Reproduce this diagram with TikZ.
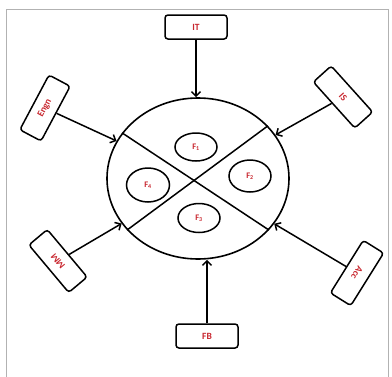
\documentclass[tikz,border=0pt]{standalone}
\usepackage{fontspec}
\setmainfont{Carlito}
\usetikzlibrary{shapes.geometric,arrows.meta}
\definecolor{labred}{RGB}{200,38,46}
\begin{document}
\begin{tikzpicture}[x=1pt,y=-1pt,>={Straight Barb[length=4.5pt,width=9pt]},
        dept/.style={draw,line width=1.5pt,rounded corners=3pt,minimum width=62pt,
            minimum height=24pt,inner sep=0pt,text=labred,font=\fontsize{9.5}{10}\selectfont\bfseries},
        fund/.style={draw,ellipse,line width=1.5pt,minimum width=42pt,minimum height=30pt,
            inner sep=0pt,text=labred,font=\fontsize{8.5}{9}\selectfont\bfseries},
        feed/.style={->,line width=1.5pt}]
        \useasboundingbox (0,0) rectangle (392,376);
        % cornice
        \draw[gray!60,line width=0.8pt] (6,390) -- (6,9) -- (388,9) -- (388,390);
        % cerchio centrale
        \node[draw,ellipse,line width=1.6pt,minimum width=182pt,minimum height=161pt,inner sep=0pt]
            (pool) at (198,178.5) {};
        \draw[line width=1.5pt] (pool.149) -- (pool.324);
        \draw[line width=1.5pt] (pool.216) -- (pool.37);
        % fondi
        \node[fund,minimum height=28pt] (f1) at (196,147) {F\textsubscript{1}};
        \node[fund,minimum height=32pt] (f2) at (250,176) {F\textsubscript{2}};
        \node[fund,minimum height=29pt] (f3) at (199,218) {F\textsubscript{3}};
        \node[fund,minimum width=43pt,minimum height=34pt] (f4) at (148,185) {F\textsubscript{4}};
        % reparti
        \node[dept] (it) at (196,27) {IT};
        \node[dept,rotate=-48] (is) at (343,97) {IS};
        \node[dept,rotate=-122] (acc) at (357,273) {Acc};
        \node[dept] (fb) at (207,336) {FB};
        \node[dept,rotate=130] (mm) at (58,261) {MM};
        \node[dept,rotate=62] (engn) at (45,108) {Engn};
        % frecce
        \draw[feed] (it) -- (it |- pool.north);
        \draw[feed] (is) -- (pool);
        \draw[feed] (acc) -- (pool);
        \draw[feed] (fb) -- (fb |- pool.south);
        \draw[feed] (mm) -- (pool);
        \draw[feed] (engn) -- (pool);
    \end{tikzpicture}
\end{document}
